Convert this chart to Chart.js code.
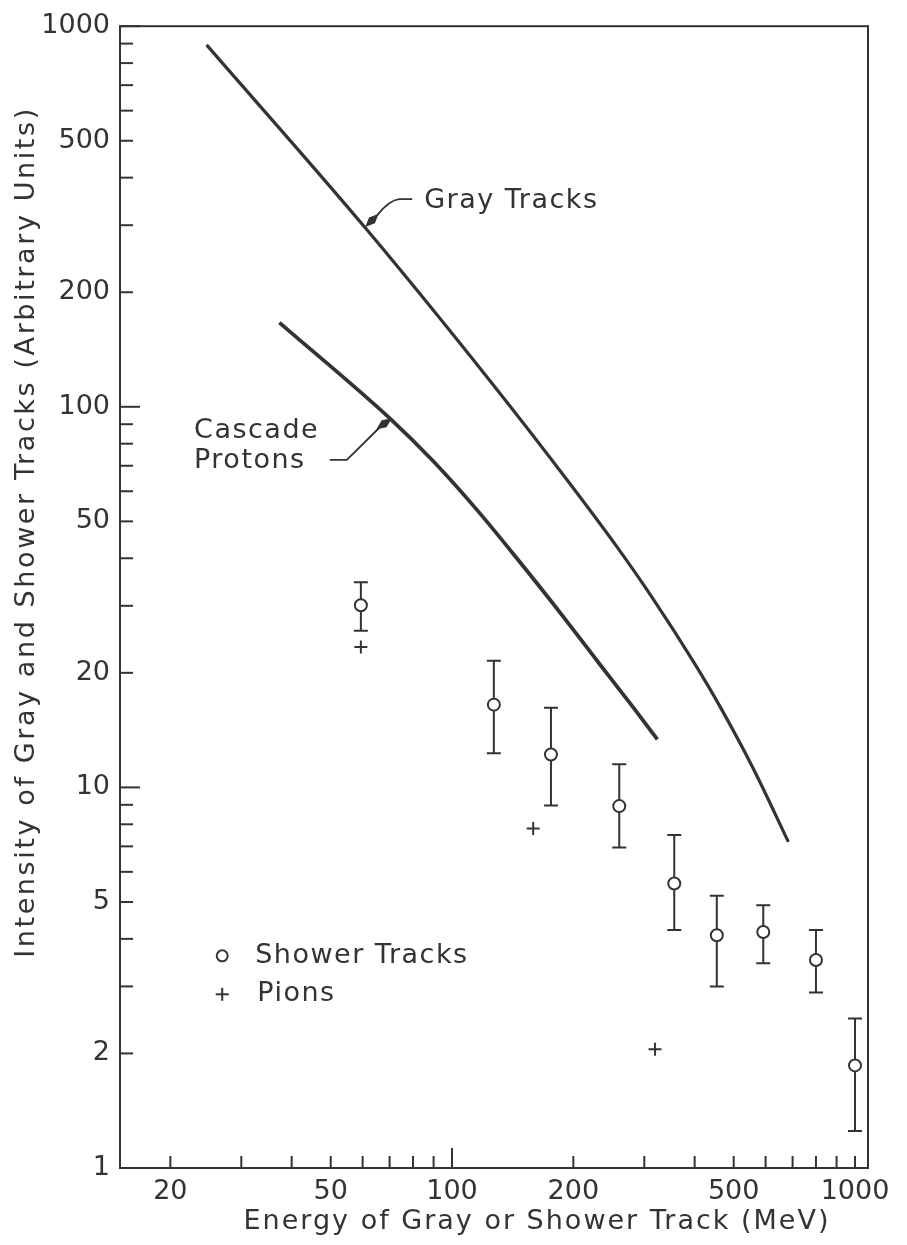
<!DOCTYPE html>
<html>
<head>
<meta charset="utf-8">
<script src="https://cdn.jsdelivr.net/npm/chart.js@4.4.1/dist/chart.umd.min.js"></script>
<style>
  html, body { margin: 0; padding: 0; background: #ffffff; }
  #wrap { width: 907px; height: 1245px; }
</style>
</head>
<body>
<div id="wrap"><canvas id="c" width="907" height="1245"></canvas></div>
<script>
// ---- data ----
const xTickLabels = [20, 50, 100, 200, 500, 1000];
const yTickLabels = [1, 2, 5, 10, 20, 50, 100, 200, 500, 1000];
const xTickMarks = [20, 30, 40, 50, 60, 70, 80, 90, 100, 200, 300, 400, 500, 600, 700, 800, 900, 1000];
const yTickMarks = [1, 2, 3, 4, 5, 6, 7, 8, 9, 10, 20, 30, 40, 50, 60, 70, 80, 90,
                    100, 200, 300, 400, 500, 600, 700, 800, 900, 1000];

const grayTracksEnergy    = [24.6, 61.5, 125.6, 192.6, 256.4, 316, 397.2, 462.5, 559.8, 683.5];
const grayTracksIntensity = [893, 291.7, 115.3, 64.4, 42.9, 31.2, 21.4, 16.3, 11.18, 7.19];

const cascadeEnergy    = [37.3, 70.2, 90, 115.3, 144.8, 185.4, 233.1, 281.9, 323.3];
const cascadeIntensity = [166.4, 93.1, 71.8, 53.6, 40.0, 28.8, 21.0, 16.2, 13.37];

const showerEnergy    = [59.4, 127, 176, 260, 356, 454, 592, 800, 1000];
const showerIntensity = [30.1, 16.5, 12.2, 8.93, 5.59, 4.09, 4.17, 3.52, 1.86];
const showerUpper     = [34.6, 21.5, 16.2, 11.5, 7.50, 5.19, 4.90, 4.22, 2.47];
const showerLower     = [25.8, 12.3, 8.96, 6.95, 4.22, 3.00, 3.45, 2.89, 1.25];

const pionEnergy    = [59.4, 159, 319];
const pionIntensity = [23.4, 7.8, 2.05];

const xTitle = 'Energy of Gray or Shower Track (MeV)';
const yTitle = 'Intensity of Gray and Shower Tracks (Arbitrary Units)';
const grayLabel = 'Gray Tracks';
const cascadeLabel = ['Cascade', 'Protons'];
const legendItems = ['Shower Tracks', 'Pions'];

// ---- styling ----
const FONT = '"DejaVu Sans", sans-serif';
const INK = '#333333';
const toXY = (xs, ys) => xs.map((v, i) => ({ x: v, y: ys[i] }));

function line(ctx, x1, y1, x2, y2) {
  ctx.beginPath(); ctx.moveTo(x1, y1); ctx.lineTo(x2, y2); ctx.stroke();
}
function arrowHead(ctx, tx, ty, bx, by) {
  const dx = tx - bx, dy = ty - by, L = Math.hypot(dx, dy);
  const ux = dx / L, uy = dy / L, nx = -uy, ny = ux;
  const len = 19, w = 4.2;
  const mx = tx - ux * len * 0.5, my = ty - uy * len * 0.5;
  ctx.beginPath();
  ctx.moveTo(tx, ty);
  ctx.lineTo(mx + nx * w, my + ny * w);
  ctx.lineTo(tx - ux * len, ty - uy * len);
  ctx.lineTo(mx - nx * w, my - ny * w);
  ctx.closePath();
  ctx.fill();
}

const inkPlugin = {
  id: 'ink',
  beforeDatasetsDraw(chart) {
    const { ctx, scales: { x, y } } = chart;
    ctx.save();
    ctx.strokeStyle = INK; ctx.lineWidth = 2;
    showerEnergy.forEach((e, i) => {
      const px = x.getPixelForValue(e);
      const yt = y.getPixelForValue(showerUpper[i]);
      const yb = y.getPixelForValue(showerLower[i]);
      ctx.beginPath();
      ctx.moveTo(px, yt); ctx.lineTo(px, yb);
      ctx.moveTo(px - 7, yt); ctx.lineTo(px + 7, yt);
      ctx.moveTo(px - 7, yb); ctx.lineTo(px + 7, yb);
      ctx.stroke();
    });
    ctx.restore();
  },
  afterDraw(chart) {
    const { ctx, chartArea: { left, right, top, bottom }, scales: { x, y } } = chart;
    ctx.save();
    // frame
    ctx.strokeStyle = INK; ctx.lineWidth = 2;
    ctx.strokeRect(left, top, right - left, bottom - top);
    // inward ticks
    xTickMarks.forEach(v => {
      const px = x.getPixelForValue(v);
      line(ctx, px, bottom, px, bottom - (v === 100 ? 20 : 12));
    });
    yTickMarks.forEach(v => {
      const py = y.getPixelForValue(v);
      const major = [1, 10, 100, 1000].includes(v);
      line(ctx, left, py, left + (major ? 20 : 13), py);
    });

    ctx.fillStyle = INK;
    ctx.font = '27px ' + FONT;
    ctx.letterSpacing = '2px';
    ctx.textBaseline = 'middle';
    // axis titles
    ctx.textAlign = 'center';
    ctx.fillText(xTitle, 537, bottom + 54);
    ctx.save();
    ctx.translate(27, 532);
    ctx.rotate(-Math.PI / 2);
    ctx.letterSpacing = '2.6px';
    ctx.fillText(yTitle, 0, 0);
    ctx.restore();

    // annotations
    ctx.letterSpacing = '1.5px';
    ctx.textAlign = 'left';
    // Gray Tracks
    const gx = x.getPixelForValue(60.9), gy = y.getPixelForValue(296.6);
    ctx.lineWidth = 1.8;
    ctx.beginPath();
    ctx.moveTo(gx + 12, gy - 12);
    ctx.quadraticCurveTo(gx + 24, gy - 27, gx + 34, gy - 28);
    ctx.lineTo(gx + 47, gy - 28);
    ctx.stroke();
    arrowHead(ctx, gx, gy, gx + 15, gy - 15);
    ctx.fillText(grayLabel, x.getPixelForValue(85.3), y.getPixelForValue(348));
    // Cascade Protons
    const cx = x.getPixelForValue(70.9), cy = y.getPixelForValue(93.3);
    ctx.beginPath();
    ctx.moveTo(cx - 12, cy + 9);
    ctx.lineTo(cx - 45, cy + 41.7);
    ctx.lineTo(cx - 62, cy + 41.7);
    ctx.stroke();
    arrowHead(ctx, cx, cy, cx - 14, cy + 10);
    const clx = x.getPixelForValue(22.9), cly = y.getPixelForValue(86.5);
    ctx.fillText(cascadeLabel[0], clx, cly);
    ctx.fillText(cascadeLabel[1], clx, cly + 30);

    // legend
    const lx = x.getPixelForValue(26.9), ly1 = y.getPixelForValue(3.61), ly2 = y.getPixelForValue(2.86);
    ctx.lineWidth = 2;
    ctx.beginPath(); ctx.arc(lx, ly1, 5.5, 0, Math.PI * 2); ctx.stroke();
    line(ctx, lx - 6.5, ly2, lx + 6.5, ly2);
    line(ctx, lx, ly2 - 6.5, lx, ly2 + 6.5);
    ctx.fillText(legendItems[0], lx + 33, ly1);
    ctx.fillText(legendItems[1], lx + 35, ly2);
    ctx.restore();
  }
};

new Chart(document.getElementById('c'), {
  type: 'scatter',
  data: {
    datasets: [
      { label: 'Gray Tracks', data: toXY(grayTracksEnergy, grayTracksIntensity),
        showLine: true, borderColor: INK, borderWidth: 3.2, pointRadius: 0,
        cubicInterpolationMode: 'monotone', fill: false },
      { label: 'Cascade Protons', data: toXY(cascadeEnergy, cascadeIntensity),
        showLine: true, borderColor: INK, borderWidth: 3.8, pointRadius: 0,
        cubicInterpolationMode: 'monotone', fill: false },
      { label: 'Shower Tracks', data: toXY(showerEnergy, showerIntensity),
        showLine: false, pointStyle: 'circle', pointRadius: 6,
        pointBackgroundColor: '#ffffff', pointBorderColor: INK, pointBorderWidth: 2 },
      { label: 'Pions', data: toXY(pionEnergy, pionIntensity),
        showLine: false, pointStyle: 'cross', pointRadius: 6.5,
        pointBorderColor: INK, pointBorderWidth: 2 }
    ]
  },
  options: {
    responsive: false,
    animation: false,
    devicePixelRatio: 1,
    layout: { padding: { left: 0, right: 39, top: 20, bottom: 0 } },
    plugins: { legend: { display: false }, tooltip: { enabled: false } },
    scales: {
      x: {
        type: 'logarithmic', position: 'bottom', min: 15, max: 1077,
        grid: { display: false, drawTicks: false }, border: { display: false },
        ticks: { font: { family: FONT, size: 27 }, color: INK, padding: 8,
                 maxRotation: 0, autoSkip: false, callback: v => String(v) },
        afterBuildTicks: s => { s.ticks = xTickLabels.map(v => ({ value: v })); },
        afterFit: s => { s.height = 77; }
      },
      y: {
        type: 'logarithmic', position: 'left', min: 1, max: 1000,
        grid: { display: false, drawTicks: false }, border: { display: false },
        ticks: { font: { family: FONT, size: 27 }, color: INK, padding: 10,
                 autoSkip: false, callback: v => String(v) },
        afterBuildTicks: s => { s.ticks = yTickLabels.map(v => ({ value: v })); },
        afterFit: s => { s.width = 120; }
      }
    }
  },
  plugins: [inkPlugin]
});
</script>
</body>
</html>
